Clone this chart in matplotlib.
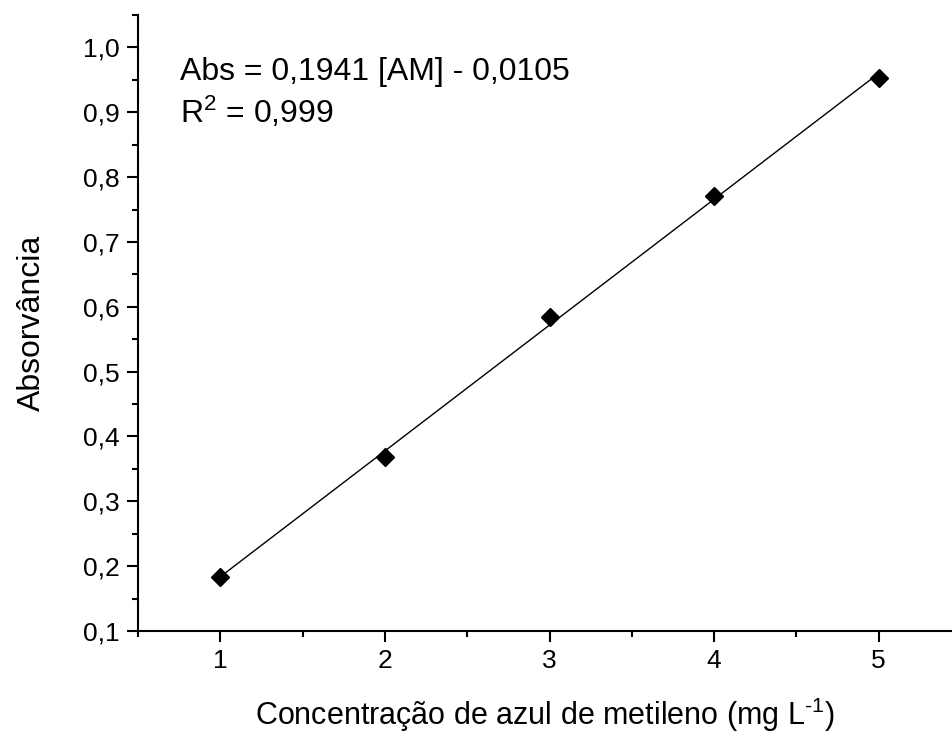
import numpy as np
from matplotlib import pyplot as plt
from matplotlib.ticker import FuncFormatter, MultipleLocator

# calibration data
conc = [1, 2, 3, 4, 5]
absorb = [0.183, 0.368, 0.585, 0.771, 0.953]
slope = 0.1941
intercept = -0.0105

plt.rcParams['font.family'] = ['Liberation Sans', 'DejaVu Sans']
plt.rcParams['mathtext.fontset'] = 'custom'
plt.rcParams['mathtext.rm'] = 'Liberation Sans'
plt.rcParams['mathtext.it'] = 'Liberation Sans'

fig = plt.figure(figsize=(9.53, 7.36), dpi=100)
ax = fig.add_axes([0.1448, 0.1427, 0.855, 0.8369])

xfit = np.array([conc[0], conc[-1]])
ax.plot(xfit, slope * xfit + intercept, color='black', lw=1.0)
ax.plot(conc, absorb, 'D', color='black', markersize=9)

ax.set_xlim(0.5, 5.45)
ax.set_ylim(0.1, 1.05)
ax.xaxis.set_major_locator(MultipleLocator(1))
ax.xaxis.set_minor_locator(MultipleLocator(0.5))
ax.yaxis.set_major_locator(MultipleLocator(0.1))
ax.yaxis.set_minor_locator(MultipleLocator(0.05))
ax.yaxis.set_major_formatter(FuncFormatter(lambda v, p: ('%.1f' % v).replace('.', ',')))

for s in ['top', 'right']:
    ax.spines[s].set_visible(False)
for s in ['left', 'bottom']:
    ax.spines[s].set_linewidth(1.5)
ax.tick_params(which='major', direction='out', length=8, width=1.5, labelsize=19, pad=5)
ax.tick_params(which='minor', direction='out', length=4.5, width=1.5)

ax.set_xlabel(r'Concentração de azul de metileno (mg L$^{\text{-1}}$)', fontsize=22, labelpad=16)
ax.set_ylabel('Absorvância', fontsize=23, labelpad=26)

ax.text(0.755, 0.985, 'Abs = 0,1941 [AM] - 0,0105\nR$^{\\mathrm{2}}$ = 0,999', fontsize=23,
        va='top', ha='left', linespacing=1.25)

fig.savefig('out.png', dpi=100)
